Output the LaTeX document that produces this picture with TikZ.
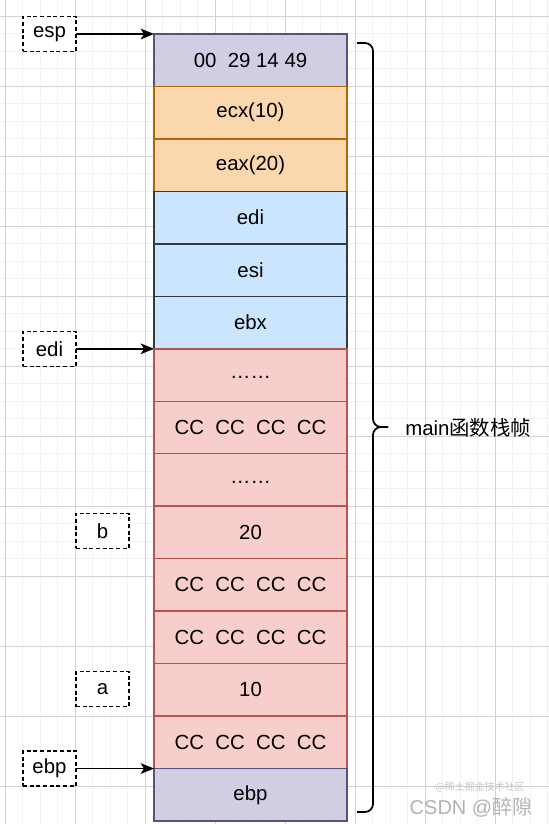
\documentclass[tikz,border=0pt]{standalone}
\usepackage{fontspec}
\setmainfont{Liberation Sans}
\newfontfamily\cjkfont{Noto Sans CJK SC}
\usepackage{tikz}
\usetikzlibrary{arrows.meta,positioning}
\definecolor{frame-fill}{HTML}{D0CEE2}
\definecolor{frame-line}{HTML}{56517E}
\definecolor{save-fill}{HTML}{FAD7AC}
\definecolor{save-line}{HTML}{B46504}
\definecolor{reg-fill}{HTML}{CCE5FF}
\definecolor{reg-line}{HTML}{36393D}
\definecolor{local-fill}{HTML}{F8CECC}
\definecolor{local-line}{HTML}{B85450}
\tikzset{
  stack-cell/.style={rectangle, minimum width=144.75pt, minimum height=39.35pt,
    outer sep=0pt, inner sep=0pt, line width=1.1pt, font=\fontsize{15.3}{17}\selectfont},
  frame-cell/.style={stack-cell, draw=frame-line, fill=frame-fill},
  save-cell/.style={stack-cell, draw=save-line, fill=save-fill},
  reg-cell/.style={stack-cell, draw=reg-line, fill=reg-fill},
  local-cell/.style={stack-cell, draw=local-line, fill=local-fill},
  ptr-label/.style={draw=black, dash pattern=on 3pt off 2pt, line width=1pt, fill=white,
    minimum width=39.75pt, minimum height=26.25pt, inner sep=0pt, outer sep=0pt,
    font=\fontsize{15.3}{17}\selectfont},
  ptr-arrow/.style={-{Stealth[length=10pt, width=8pt, inset=2.5pt]}, line width=1.3pt}
}

\begin{document}
\begin{tikzpicture}[x=0.75pt, y=-0.75pt]
  \useasboundingbox (0,0) rectangle (549,824);
  \fill[white] (0,0) rectangle (549,824);
  % grid
  \begin{scope}
    \clip (0,0) rectangle (549,824);
    \foreach \g in {-12.5,5,...,560} {
      \draw[gray!10, line width=0.6pt] (\g,0) -- (\g,824);
      \draw[gray!10, line width=0.6pt] (0,\g+11) -- (549,\g+11);
    }
    \foreach \g in {5,75,...,560} {
      \draw[gray!35, line width=0.6pt] (\g,0) -- (\g,824);
    }
    \foreach \g in {16,86,...,830} {
      \draw[gray!35, line width=0.6pt] (0,\g) -- (549,\g);
    }
  \end{scope}

  % stack frame
  \node[frame-cell, anchor=north west] (s1) at (154,34) {00~~29 14 49};
  \node[save-cell, below=0pt of s1] (s2) {ecx(10)};
  \node[save-cell, below=0pt of s2] (s3) {eax(20)};
  \node[reg-cell, below=0pt of s3] (s4) {edi};
  \node[reg-cell, below=0pt of s4] (s5) {esi};
  \node[reg-cell, below=0pt of s5] (s6) {ebx};
  \node[local-cell, below=0pt of s6] (s7) {\raisebox{-5pt}{……}};
  \node[local-cell, below=0pt of s7] (s8) {CC~~CC~~CC~~CC};
  \node[local-cell, below=0pt of s8] (s9) {\raisebox{-5pt}{……}};
  \node[local-cell, below=0pt of s9] (s10) {20};
  \node[local-cell, below=0pt of s10] (s11) {CC~~CC~~CC~~CC};
  \node[local-cell, below=0pt of s11] (s12) {CC~~CC~~CC~~CC};
  \node[local-cell, below=0pt of s12] (s13) {10};
  \node[local-cell, below=0pt of s13] (s14) {CC~~CC~~CC~~CC};
  \node[frame-cell, below=0pt of s14] (s15) {ebp};

  % pointers and variables
  \node[ptr-label, left=58.5pt of s1.north west] (esp) {esp};
  \node[ptr-label, left=58.5pt of s7.north west] (edi) {edi};
  \node[ptr-label, left=58.5pt of s15.north west] (ebp) {ebp};
  \node[ptr-label, left=18.75pt of s10.west, yshift=1.2pt] (b) {b};
  \node[ptr-label, left=18.75pt of s13.west, yshift=0.6pt] (a) {a};
  \draw[ptr-arrow] (esp) -- (s1.north west);
  \draw[ptr-arrow] (edi) -- (s7.north west);
  \draw[ptr-arrow] (ebp) -- (s15.north west);

  % brace
  \draw[line width=1.3pt, rounded corners=6pt] (357,43) -| (373,427) -- (388,427);
  \draw[line width=1.3pt, rounded corners=6pt] (357,812) -| (373,427) -- (388,427);
  \node[anchor=west, inner sep=0pt, font=\fontsize{15.3}{17}\selectfont] (frame) at (405,428)
    {main\cjkfont 函数栈帧};

  % watermark
  \node[text=gray!45, font=\fontsize{7.5}{8}\cjkfont] (mark2) at (480,787) {@稀土掘金技术社区};
  \node[text=gray!60, font=\fontsize{15}{16}\selectfont] (mark) at (471,807) {CSDN @\cjkfont 醉隙};
\end{tikzpicture}
\end{document}
